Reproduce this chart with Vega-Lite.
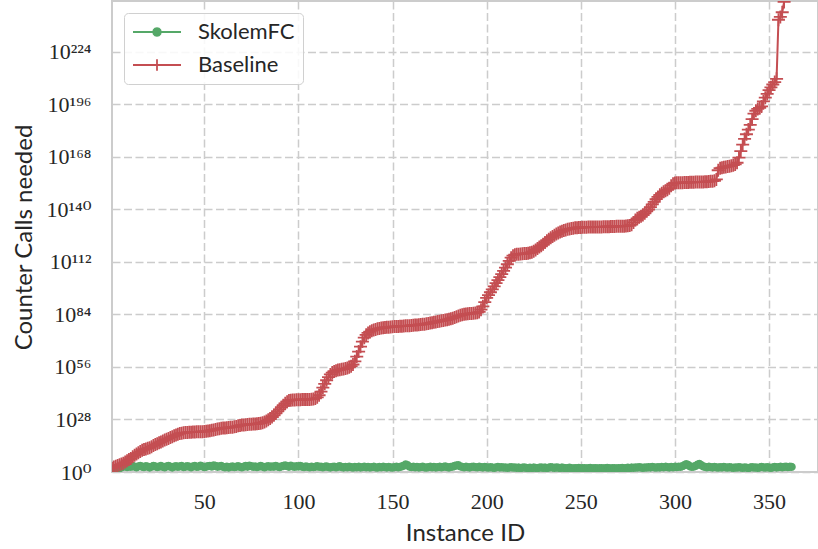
{
"$schema":"https://vega.github.io/schema/vega-lite/v6.json",
"width":706,"height":471,
"autosize":{"type":"none"},
"padding":{"left":112,"top":1,"right":0,"bottom":77},
"background":"white",
"config":{
"view":{"stroke":"#cccccc","strokeWidth":2},
"axis":{"grid":true,"gridColor":"#cccccc","gridDash":[8,3.5],"gridWidth":1.5,"domain":false,"ticks":false,"tickSize":0,"labelFont":"Liberation Serif, DejaVu Serif","labelFontSize":22,"labelColor":"#262626","titleFont":"Lato","titleFontSize":24,"titleColor":"#262626","titleFontWeight":"normal","labelFlush":false,"labelOverlap":false,"labelBound":false},
"legend":{"orient":"top-left","offset":12,"padding":8,"fillColor":"rgba(255,255,255,0.85)","strokeColor":"#d0d0d0","cornerRadius":4,"labelFont":"Lato","labelFontSize":22,"labelColor":"#262626","labelOffset":16,"symbolSize":2304,"clipHeight":22,"rowPadding":11,"symbolStrokeWidth":1.8}
},
"data":{"values":[
{"id":1,"SkolemFC":0.5,"Baseline":2.0},{"id":2,"SkolemFC":0.9,"Baseline":2.6},{"id":3,"SkolemFC":1.3,"Baseline":3.1},{"id":4,"SkolemFC":1.7,"Baseline":3.5},{"id":5,"SkolemFC":2.1,"Baseline":3.8},{"id":6,"SkolemFC":2.4,"Baseline":4.2},{"id":7,"SkolemFC":2.8,"Baseline":4.7},{"id":8,"SkolemFC":3.1,"Baseline":5.3},{"id":9,"SkolemFC":2.6,"Baseline":6.0},{"id":10,"SkolemFC":3.0,"Baseline":6.6},
{"id":11,"SkolemFC":2.7,"Baseline":7.2},{"id":12,"SkolemFC":3.2,"Baseline":8.1},{"id":13,"SkolemFC":2.9,"Baseline":8.9},{"id":14,"SkolemFC":2.5,"Baseline":9.6},{"id":15,"SkolemFC":3.0,"Baseline":10.3},{"id":16,"SkolemFC":3.3,"Baseline":10.9},{"id":17,"SkolemFC":2.8,"Baseline":11.6},{"id":18,"SkolemFC":2.6,"Baseline":12.0},{"id":19,"SkolemFC":3.1,"Baseline":12.3},{"id":20,"SkolemFC":2.9,"Baseline":12.6},
{"id":21,"SkolemFC":2.4,"Baseline":12.9},{"id":22,"SkolemFC":2.8,"Baseline":13.5},{"id":23,"SkolemFC":3.2,"Baseline":14.1},{"id":24,"SkolemFC":3.0,"Baseline":14.6},{"id":25,"SkolemFC":2.6,"Baseline":15.1},{"id":26,"SkolemFC":2.9,"Baseline":15.6},{"id":27,"SkolemFC":3.3,"Baseline":16.0},{"id":28,"SkolemFC":2.7,"Baseline":16.5},{"id":29,"SkolemFC":2.5,"Baseline":17.0},{"id":30,"SkolemFC":3.0,"Baseline":17.4},
{"id":31,"SkolemFC":3.2,"Baseline":17.9},{"id":32,"SkolemFC":2.8,"Baseline":18.4},{"id":33,"SkolemFC":2.4,"Baseline":18.8},{"id":34,"SkolemFC":2.9,"Baseline":19.3},{"id":35,"SkolemFC":3.1,"Baseline":19.7},{"id":36,"SkolemFC":2.7,"Baseline":20.1},{"id":37,"SkolemFC":3.0,"Baseline":20.5},{"id":38,"SkolemFC":3.3,"Baseline":20.7},{"id":39,"SkolemFC":2.6,"Baseline":20.9},{"id":40,"SkolemFC":2.8,"Baseline":21.0},
{"id":41,"SkolemFC":3.1,"Baseline":21.1},{"id":42,"SkolemFC":2.9,"Baseline":21.2},{"id":43,"SkolemFC":2.5,"Baseline":21.2},{"id":44,"SkolemFC":3.0,"Baseline":21.3},{"id":45,"SkolemFC":3.2,"Baseline":21.3},{"id":46,"SkolemFC":2.7,"Baseline":21.4},{"id":47,"SkolemFC":2.9,"Baseline":21.4},{"id":48,"SkolemFC":3.4,"Baseline":21.5},{"id":49,"SkolemFC":3.0,"Baseline":21.5},{"id":50,"SkolemFC":2.6,"Baseline":21.6},
{"id":51,"SkolemFC":2.8,"Baseline":21.7},{"id":52,"SkolemFC":3.1,"Baseline":21.8},{"id":53,"SkolemFC":3.3,"Baseline":22.0},{"id":54,"SkolemFC":2.9,"Baseline":22.2},{"id":55,"SkolemFC":3.5,"Baseline":22.4},{"id":56,"SkolemFC":3.2,"Baseline":22.7},{"id":57,"SkolemFC":2.8,"Baseline":22.9},{"id":58,"SkolemFC":3.0,"Baseline":23.1},{"id":59,"SkolemFC":3.3,"Baseline":23.3},{"id":60,"SkolemFC":2.7,"Baseline":23.4},
{"id":61,"SkolemFC":2.5,"Baseline":23.5},{"id":62,"SkolemFC":2.9,"Baseline":23.6},{"id":63,"SkolemFC":2.4,"Baseline":23.7},{"id":64,"SkolemFC":2.7,"Baseline":23.8},{"id":65,"SkolemFC":3.0,"Baseline":23.9},{"id":66,"SkolemFC":2.6,"Baseline":24.1},{"id":67,"SkolemFC":2.8,"Baseline":24.3},{"id":68,"SkolemFC":3.1,"Baseline":24.6},{"id":69,"SkolemFC":2.7,"Baseline":24.8},{"id":70,"SkolemFC":2.5,"Baseline":25.0},
{"id":71,"SkolemFC":2.9,"Baseline":25.1},{"id":72,"SkolemFC":3.2,"Baseline":25.2},{"id":73,"SkolemFC":2.8,"Baseline":25.3},{"id":74,"SkolemFC":3.4,"Baseline":25.4},{"id":75,"SkolemFC":3.1,"Baseline":25.5},{"id":76,"SkolemFC":2.7,"Baseline":25.6},{"id":77,"SkolemFC":3.0,"Baseline":25.6},{"id":78,"SkolemFC":2.6,"Baseline":25.7},{"id":79,"SkolemFC":2.9,"Baseline":25.8},{"id":80,"SkolemFC":3.2,"Baseline":26.0},
{"id":81,"SkolemFC":2.8,"Baseline":26.3},{"id":82,"SkolemFC":2.5,"Baseline":26.7},{"id":83,"SkolemFC":2.9,"Baseline":27.2},{"id":84,"SkolemFC":3.1,"Baseline":27.8},{"id":85,"SkolemFC":2.7,"Baseline":28.5},{"id":86,"SkolemFC":3.0,"Baseline":29.3},{"id":87,"SkolemFC":2.8,"Baseline":30.2},{"id":88,"SkolemFC":3.3,"Baseline":31.2},{"id":89,"SkolemFC":2.9,"Baseline":32.3},{"id":90,"SkolemFC":2.6,"Baseline":33.4},
{"id":91,"SkolemFC":3.0,"Baseline":34.5},{"id":92,"SkolemFC":3.2,"Baseline":35.6},{"id":93,"SkolemFC":3.5,"Baseline":36.6},{"id":94,"SkolemFC":3.1,"Baseline":37.5},{"id":95,"SkolemFC":2.8,"Baseline":38.1},{"id":96,"SkolemFC":3.4,"Baseline":38.3},{"id":97,"SkolemFC":3.0,"Baseline":38.4},{"id":98,"SkolemFC":2.7,"Baseline":38.4},{"id":99,"SkolemFC":3.1,"Baseline":38.5},{"id":100,"SkolemFC":2.9,"Baseline":38.5},
{"id":101,"SkolemFC":3.3,"Baseline":38.5},{"id":102,"SkolemFC":2.8,"Baseline":38.6},{"id":103,"SkolemFC":2.6,"Baseline":38.6},{"id":104,"SkolemFC":3.0,"Baseline":38.6},{"id":105,"SkolemFC":2.7,"Baseline":38.7},{"id":106,"SkolemFC":2.5,"Baseline":38.7},{"id":107,"SkolemFC":2.9,"Baseline":38.8},{"id":108,"SkolemFC":2.6,"Baseline":38.9},{"id":109,"SkolemFC":2.8,"Baseline":39.2},{"id":110,"SkolemFC":3.1,"Baseline":39.8},
{"id":111,"SkolemFC":2.7,"Baseline":40.9},{"id":112,"SkolemFC":2.9,"Baseline":42.8},{"id":113,"SkolemFC":2.5,"Baseline":45.0},{"id":114,"SkolemFC":2.8,"Baseline":47.0},{"id":115,"SkolemFC":3.0,"Baseline":48.9},{"id":116,"SkolemFC":2.6,"Baseline":50.6},{"id":117,"SkolemFC":2.4,"Baseline":52.0},{"id":118,"SkolemFC":2.7,"Baseline":53.0},{"id":119,"SkolemFC":2.9,"Baseline":53.6},{"id":120,"SkolemFC":2.5,"Baseline":54.0},
{"id":121,"SkolemFC":2.8,"Baseline":54.3},{"id":122,"SkolemFC":3.1,"Baseline":54.5},{"id":123,"SkolemFC":2.6,"Baseline":54.7},{"id":124,"SkolemFC":2.4,"Baseline":54.9},{"id":125,"SkolemFC":2.7,"Baseline":55.1},{"id":126,"SkolemFC":2.5,"Baseline":55.4},{"id":127,"SkolemFC":2.9,"Baseline":55.8},{"id":128,"SkolemFC":2.6,"Baseline":56.4},{"id":129,"SkolemFC":2.3,"Baseline":57.3},{"id":130,"SkolemFC":2.7,"Baseline":59.0},
{"id":131,"SkolemFC":2.5,"Baseline":61.5},{"id":132,"SkolemFC":2.8,"Baseline":64.2},{"id":133,"SkolemFC":2.4,"Baseline":66.8},{"id":134,"SkolemFC":2.6,"Baseline":69.5},{"id":135,"SkolemFC":2.9,"Baseline":71.6},{"id":136,"SkolemFC":2.5,"Baseline":73.1},{"id":137,"SkolemFC":2.7,"Baseline":74.1},{"id":138,"SkolemFC":2.4,"Baseline":74.8},{"id":139,"SkolemFC":2.6,"Baseline":75.3},{"id":140,"SkolemFC":2.8,"Baseline":75.7},
{"id":141,"SkolemFC":2.5,"Baseline":76.0},{"id":142,"SkolemFC":2.3,"Baseline":76.3},{"id":143,"SkolemFC":2.7,"Baseline":76.5},{"id":144,"SkolemFC":2.5,"Baseline":76.7},{"id":145,"SkolemFC":2.8,"Baseline":76.9},{"id":146,"SkolemFC":2.6,"Baseline":77.0},{"id":147,"SkolemFC":2.4,"Baseline":77.1},{"id":148,"SkolemFC":2.7,"Baseline":77.2},{"id":149,"SkolemFC":2.5,"Baseline":77.3},{"id":150,"SkolemFC":2.3,"Baseline":77.4},
{"id":151,"SkolemFC":2.6,"Baseline":77.5},{"id":152,"SkolemFC":2.8,"Baseline":77.6},{"id":153,"SkolemFC":2.5,"Baseline":77.6},{"id":154,"SkolemFC":2.7,"Baseline":77.7},{"id":155,"SkolemFC":3.0,"Baseline":77.7},{"id":156,"SkolemFC":3.4,"Baseline":77.8},{"id":157,"SkolemFC":4.0,"Baseline":77.9},{"id":158,"SkolemFC":3.6,"Baseline":77.9},{"id":159,"SkolemFC":2.9,"Baseline":78.0},{"id":160,"SkolemFC":2.6,"Baseline":78.1},
{"id":161,"SkolemFC":2.8,"Baseline":78.2},{"id":162,"SkolemFC":2.5,"Baseline":78.3},{"id":163,"SkolemFC":2.7,"Baseline":78.4},{"id":164,"SkolemFC":2.4,"Baseline":78.5},{"id":165,"SkolemFC":2.6,"Baseline":78.6},{"id":166,"SkolemFC":2.9,"Baseline":78.7},{"id":167,"SkolemFC":2.5,"Baseline":78.8},{"id":168,"SkolemFC":2.3,"Baseline":79.0},{"id":169,"SkolemFC":2.6,"Baseline":79.2},{"id":170,"SkolemFC":2.8,"Baseline":79.4},
{"id":171,"SkolemFC":2.5,"Baseline":79.6},{"id":172,"SkolemFC":2.7,"Baseline":79.8},{"id":173,"SkolemFC":2.4,"Baseline":80.0},{"id":174,"SkolemFC":2.6,"Baseline":80.2},{"id":175,"SkolemFC":2.8,"Baseline":80.4},{"id":176,"SkolemFC":2.5,"Baseline":80.6},{"id":177,"SkolemFC":2.7,"Baseline":80.8},{"id":178,"SkolemFC":3.0,"Baseline":81.0},{"id":179,"SkolemFC":2.6,"Baseline":81.2},{"id":180,"SkolemFC":2.4,"Baseline":81.4},
{"id":181,"SkolemFC":2.7,"Baseline":81.7},{"id":182,"SkolemFC":2.9,"Baseline":82.0},{"id":183,"SkolemFC":3.2,"Baseline":82.4},{"id":184,"SkolemFC":3.5,"Baseline":82.8},{"id":185,"SkolemFC":3.6,"Baseline":83.2},{"id":186,"SkolemFC":3.0,"Baseline":83.5},{"id":187,"SkolemFC":2.7,"Baseline":83.8},{"id":188,"SkolemFC":2.5,"Baseline":84.0},{"id":189,"SkolemFC":2.8,"Baseline":84.2},{"id":190,"SkolemFC":2.6,"Baseline":84.3},
{"id":191,"SkolemFC":2.4,"Baseline":84.4},{"id":192,"SkolemFC":2.7,"Baseline":84.5},{"id":193,"SkolemFC":2.9,"Baseline":84.6},{"id":194,"SkolemFC":2.6,"Baseline":84.7},{"id":195,"SkolemFC":2.5,"Baseline":84.9},{"id":196,"SkolemFC":2.8,"Baseline":85.3},{"id":197,"SkolemFC":2.6,"Baseline":86.5},{"id":198,"SkolemFC":2.4,"Baseline":88.3},{"id":199,"SkolemFC":2.7,"Baseline":90.5},{"id":200,"SkolemFC":2.5,"Baseline":92.8},
{"id":201,"SkolemFC":2.3,"Baseline":94.3},{"id":202,"SkolemFC":2.6,"Baseline":95.8},{"id":203,"SkolemFC":2.4,"Baseline":97.3},{"id":204,"SkolemFC":2.2,"Baseline":98.9},{"id":205,"SkolemFC":2.5,"Baseline":100.6},{"id":206,"SkolemFC":2.7,"Baseline":102.2},{"id":207,"SkolemFC":2.4,"Baseline":103.8},{"id":208,"SkolemFC":2.6,"Baseline":105.5},{"id":209,"SkolemFC":2.3,"Baseline":107.2},{"id":210,"SkolemFC":2.5,"Baseline":108.9},
{"id":211,"SkolemFC":2.2,"Baseline":110.7},{"id":212,"SkolemFC":2.4,"Baseline":112.5},{"id":213,"SkolemFC":2.6,"Baseline":114.2},{"id":214,"SkolemFC":2.3,"Baseline":115.3},{"id":215,"SkolemFC":2.5,"Baseline":115.8},{"id":216,"SkolemFC":2.2,"Baseline":116.0},{"id":217,"SkolemFC":2.4,"Baseline":116.1},{"id":218,"SkolemFC":2.1,"Baseline":116.2},{"id":219,"SkolemFC":2.3,"Baseline":116.3},{"id":220,"SkolemFC":2.5,"Baseline":116.4},
{"id":221,"SkolemFC":2.2,"Baseline":116.5},{"id":222,"SkolemFC":2.0,"Baseline":116.6},{"id":223,"SkolemFC":2.3,"Baseline":116.8},{"id":224,"SkolemFC":2.1,"Baseline":117.1},{"id":225,"SkolemFC":2.4,"Baseline":117.6},{"id":226,"SkolemFC":2.2,"Baseline":118.3},{"id":227,"SkolemFC":2.0,"Baseline":119.1},{"id":228,"SkolemFC":2.3,"Baseline":119.9},{"id":229,"SkolemFC":2.5,"Baseline":120.6},{"id":230,"SkolemFC":2.2,"Baseline":121.4},
{"id":231,"SkolemFC":2.4,"Baseline":122.3},{"id":232,"SkolemFC":2.1,"Baseline":123.2},{"id":233,"SkolemFC":2.3,"Baseline":124.0},{"id":234,"SkolemFC":2.6,"Baseline":124.8},{"id":235,"SkolemFC":2.4,"Baseline":125.5},{"id":236,"SkolemFC":2.2,"Baseline":126.2},{"id":237,"SkolemFC":2.5,"Baseline":126.8},{"id":238,"SkolemFC":2.3,"Baseline":127.4},{"id":239,"SkolemFC":2.1,"Baseline":127.9},{"id":240,"SkolemFC":2.4,"Baseline":128.3},
{"id":241,"SkolemFC":2.2,"Baseline":128.7},{"id":242,"SkolemFC":2.0,"Baseline":129.0},{"id":243,"SkolemFC":2.1,"Baseline":129.3},{"id":244,"SkolemFC":2.3,"Baseline":129.5},{"id":245,"SkolemFC":2.0,"Baseline":129.7},{"id":246,"SkolemFC":1.9,"Baseline":129.9},{"id":247,"SkolemFC":2.1,"Baseline":130.1},{"id":248,"SkolemFC":2.0,"Baseline":130.2},{"id":249,"SkolemFC":2.2,"Baseline":130.3},{"id":250,"SkolemFC":1.9,"Baseline":130.3},
{"id":251,"SkolemFC":2.0,"Baseline":130.4},{"id":252,"SkolemFC":2.1,"Baseline":130.4},{"id":253,"SkolemFC":1.9,"Baseline":130.4},{"id":254,"SkolemFC":2.0,"Baseline":130.5},{"id":255,"SkolemFC":2.2,"Baseline":130.5},{"id":256,"SkolemFC":1.9,"Baseline":130.5},{"id":257,"SkolemFC":2.0,"Baseline":130.5},{"id":258,"SkolemFC":2.1,"Baseline":130.6},{"id":259,"SkolemFC":1.9,"Baseline":130.6},{"id":260,"SkolemFC":2.0,"Baseline":130.6},
{"id":261,"SkolemFC":2.1,"Baseline":130.6},{"id":262,"SkolemFC":1.9,"Baseline":130.7},{"id":263,"SkolemFC":2.0,"Baseline":130.7},{"id":264,"SkolemFC":2.2,"Baseline":130.7},{"id":265,"SkolemFC":2.0,"Baseline":130.7},{"id":266,"SkolemFC":1.9,"Baseline":130.8},{"id":267,"SkolemFC":2.1,"Baseline":130.8},{"id":268,"SkolemFC":2.0,"Baseline":130.8},{"id":269,"SkolemFC":1.9,"Baseline":130.9},{"id":270,"SkolemFC":2.1,"Baseline":130.9},
{"id":271,"SkolemFC":2.0,"Baseline":130.9},{"id":272,"SkolemFC":2.2,"Baseline":131.0},{"id":273,"SkolemFC":1.9,"Baseline":131.0},{"id":274,"SkolemFC":2.1,"Baseline":131.1},{"id":275,"SkolemFC":2.3,"Baseline":131.2},{"id":276,"SkolemFC":2.1,"Baseline":131.4},{"id":277,"SkolemFC":2.4,"Baseline":131.8},{"id":278,"SkolemFC":2.2,"Baseline":133.0},{"id":279,"SkolemFC":2.5,"Baseline":134.3},{"id":280,"SkolemFC":2.3,"Baseline":135.2},
{"id":281,"SkolemFC":2.6,"Baseline":135.8},{"id":282,"SkolemFC":2.4,"Baseline":136.3},{"id":283,"SkolemFC":2.2,"Baseline":137.0},{"id":284,"SkolemFC":2.5,"Baseline":137.9},{"id":285,"SkolemFC":2.3,"Baseline":138.9},{"id":286,"SkolemFC":2.6,"Baseline":139.9},{"id":287,"SkolemFC":2.4,"Baseline":141.2},{"id":288,"SkolemFC":2.7,"Baseline":142.6},{"id":289,"SkolemFC":2.5,"Baseline":144.0},{"id":290,"SkolemFC":2.3,"Baseline":145.4},
{"id":291,"SkolemFC":2.6,"Baseline":146.6},{"id":292,"SkolemFC":2.4,"Baseline":147.7},{"id":293,"SkolemFC":2.7,"Baseline":148.6},{"id":294,"SkolemFC":2.5,"Baseline":149.3},{"id":295,"SkolemFC":2.8,"Baseline":149.9},{"id":296,"SkolemFC":2.6,"Baseline":150.4},{"id":297,"SkolemFC":2.4,"Baseline":151.2},{"id":298,"SkolemFC":2.7,"Baseline":152.6},{"id":299,"SkolemFC":2.5,"Baseline":153.6},{"id":300,"SkolemFC":2.8,"Baseline":154.0},
{"id":301,"SkolemFC":2.6,"Baseline":154.1},{"id":302,"SkolemFC":2.9,"Baseline":154.1},{"id":303,"SkolemFC":2.7,"Baseline":154.2},{"id":304,"SkolemFC":3.1,"Baseline":154.2},{"id":305,"SkolemFC":3.6,"Baseline":154.3},{"id":306,"SkolemFC":4.2,"Baseline":154.3},{"id":307,"SkolemFC":3.8,"Baseline":154.3},{"id":308,"SkolemFC":3.0,"Baseline":154.4},{"id":309,"SkolemFC":2.7,"Baseline":154.4},{"id":310,"SkolemFC":2.9,"Baseline":154.4},
{"id":311,"SkolemFC":3.3,"Baseline":154.5},{"id":312,"SkolemFC":3.9,"Baseline":154.5},{"id":313,"SkolemFC":4.3,"Baseline":154.5},{"id":314,"SkolemFC":3.7,"Baseline":154.6},{"id":315,"SkolemFC":3.0,"Baseline":154.6},{"id":316,"SkolemFC":2.7,"Baseline":154.7},{"id":317,"SkolemFC":2.5,"Baseline":154.7},{"id":318,"SkolemFC":2.8,"Baseline":154.8},{"id":319,"SkolemFC":2.6,"Baseline":154.9},{"id":320,"SkolemFC":2.4,"Baseline":155.0},
{"id":321,"SkolemFC":2.7,"Baseline":155.2},{"id":322,"SkolemFC":2.5,"Baseline":155.9},{"id":323,"SkolemFC":2.3,"Baseline":160.8},{"id":324,"SkolemFC":2.6,"Baseline":161.9},{"id":325,"SkolemFC":2.4,"Baseline":162.2},{"id":326,"SkolemFC":2.7,"Baseline":162.4},{"id":327,"SkolemFC":2.5,"Baseline":162.6},{"id":328,"SkolemFC":2.3,"Baseline":162.8},{"id":329,"SkolemFC":2.6,"Baseline":163.0},{"id":330,"SkolemFC":2.4,"Baseline":163.2},
{"id":331,"SkolemFC":2.2,"Baseline":163.5},{"id":332,"SkolemFC":2.5,"Baseline":163.9},{"id":333,"SkolemFC":2.3,"Baseline":164.8},{"id":334,"SkolemFC":2.6,"Baseline":167.5},{"id":335,"SkolemFC":2.4,"Baseline":171.0},{"id":336,"SkolemFC":2.2,"Baseline":174.5},{"id":337,"SkolemFC":2.5,"Baseline":177.5},{"id":338,"SkolemFC":2.3,"Baseline":180.0},{"id":339,"SkolemFC":2.1,"Baseline":182.5},{"id":340,"SkolemFC":2.4,"Baseline":185.0},
{"id":341,"SkolemFC":2.6,"Baseline":188.0},{"id":342,"SkolemFC":2.3,"Baseline":191.0},{"id":343,"SkolemFC":2.5,"Baseline":192.5},{"id":344,"SkolemFC":2.2,"Baseline":193.5},{"id":345,"SkolemFC":2.4,"Baseline":194.0},{"id":346,"SkolemFC":2.7,"Baseline":194.8},{"id":347,"SkolemFC":2.5,"Baseline":197.5},{"id":348,"SkolemFC":2.3,"Baseline":199.5},{"id":349,"SkolemFC":2.6,"Baseline":201.5},{"id":350,"SkolemFC":2.4,"Baseline":203.5},
{"id":351,"SkolemFC":2.2,"Baseline":205.0},{"id":352,"SkolemFC":2.5,"Baseline":206.5},{"id":353,"SkolemFC":2.7,"Baseline":207.8},{"id":354,"SkolemFC":2.4,"Baseline":209.5},{"id":355,"SkolemFC":2.6,"Baseline":241.0},{"id":356,"SkolemFC":2.8,"Baseline":242.5},{"id":357,"SkolemFC":2.5,"Baseline":245.0},{"id":358,"SkolemFC":2.7,"Baseline":250.5},{"id":359,"SkolemFC":2.9,"Baseline":256.0},{"id":360,"SkolemFC":2.6},
{"id":361,"SkolemFC":2.8},{"id":362,"SkolemFC":2.7}
]},
"transform":[{"fold":["SkolemFC","Baseline"],"as":["series","calls"]},{"filter":"isValid(datum.calls)"}],
"encoding":{
"x":{"field":"id","type":"quantitative","scale":{"domain":[1,376],"nice":false,"zero":false},
"axis":{"values":[50,100,150,200,250,300,350],"title":"Instance ID","labelPadding":36,"labelBaseline":"alphabetic","titleX":353,"titleY":68,"titleBaseline":"alphabetic","titleAlign":"center"}},
"y":{"field":"calls","type":"quantitative","scale":{"domain":[0,251],"nice":false,"zero":false},
"axis":{"values":[0,28,56,84,112,140,168,196,224],"title":"Counter Calls needed","labelPadding":21,"labelBaseline":"middle",
"labelExpr":"'10' + replace(replace(replace(replace(replace(replace(replace(replace(replace(replace(toString(datum.value), regexp('0','g'), '⁰'), regexp('1','g'), '¹'), regexp('2','g'), '²'), regexp('3','g'), '³'), regexp('4','g'), '⁴'), regexp('5','g'), '⁵'), regexp('6','g'), '⁶'), regexp('7','g'), '⁷'), regexp('8','g'), '⁸'), regexp('9','g'), '⁹')",
"titleX":-81,"titleY":236,"titleAngle":270,"titleBaseline":"alphabetic","titleAlign":"center"}}
},
"layer":[
{"mark":{"type":"line","strokeWidth":2,"clip":true},
"encoding":{"color":{"field":"series","type":"nominal","scale":{"domain":["SkolemFC","Baseline"],"range":["#55A868","#C44E52"]},
"legend":{"title":null,"symbolType":"M-1,0H1","encode":{"symbols":{"update":{"shape":{"signal":"datum.value === 'SkolemFC' ? 'M-1,0H1M0.16,0L0.139,0.08L0.08,0.139L0,0.16L-0.08,0.139L-0.139,0.08L-0.16,0L-0.139,-0.08L-0.08,-0.139L0,-0.16L0.08,-0.139L0.139,-0.08Z' : 'M-1,0H1M0,-0.24V0.24'"},"fill":{"scale":"color","field":"value"},"stroke":{"scale":"color","field":"value"},"strokeWidth":{"value":1.8},"opacity":{"value":1}}}}}}}},
{"transform":[{"filter":"datum.series === 'SkolemFC'"}],
"mark":{"type":"point","filled":true,"fill":"#55A868","stroke":"#55A868","strokeWidth":1.8,"opacity":1,"size":169,"clip":true,
"shape":"M0.5,0L0.433,0.25L0.25,0.433L0,0.5L-0.25,0.433L-0.433,0.25L-0.5,0L-0.433,-0.25L-0.25,-0.433L0,-0.5L0.25,-0.433L0.433,-0.25Z"}},
{"transform":[{"filter":"datum.series === 'Baseline'"}],
"mark":{"type":"point","filled":false,"fill":"transparent","stroke":"#C44E52","strokeWidth":1.8,"opacity":1,"size":169,"clip":true,
"shape":"M-1,0H1M0,-1V1"}}
]
}
